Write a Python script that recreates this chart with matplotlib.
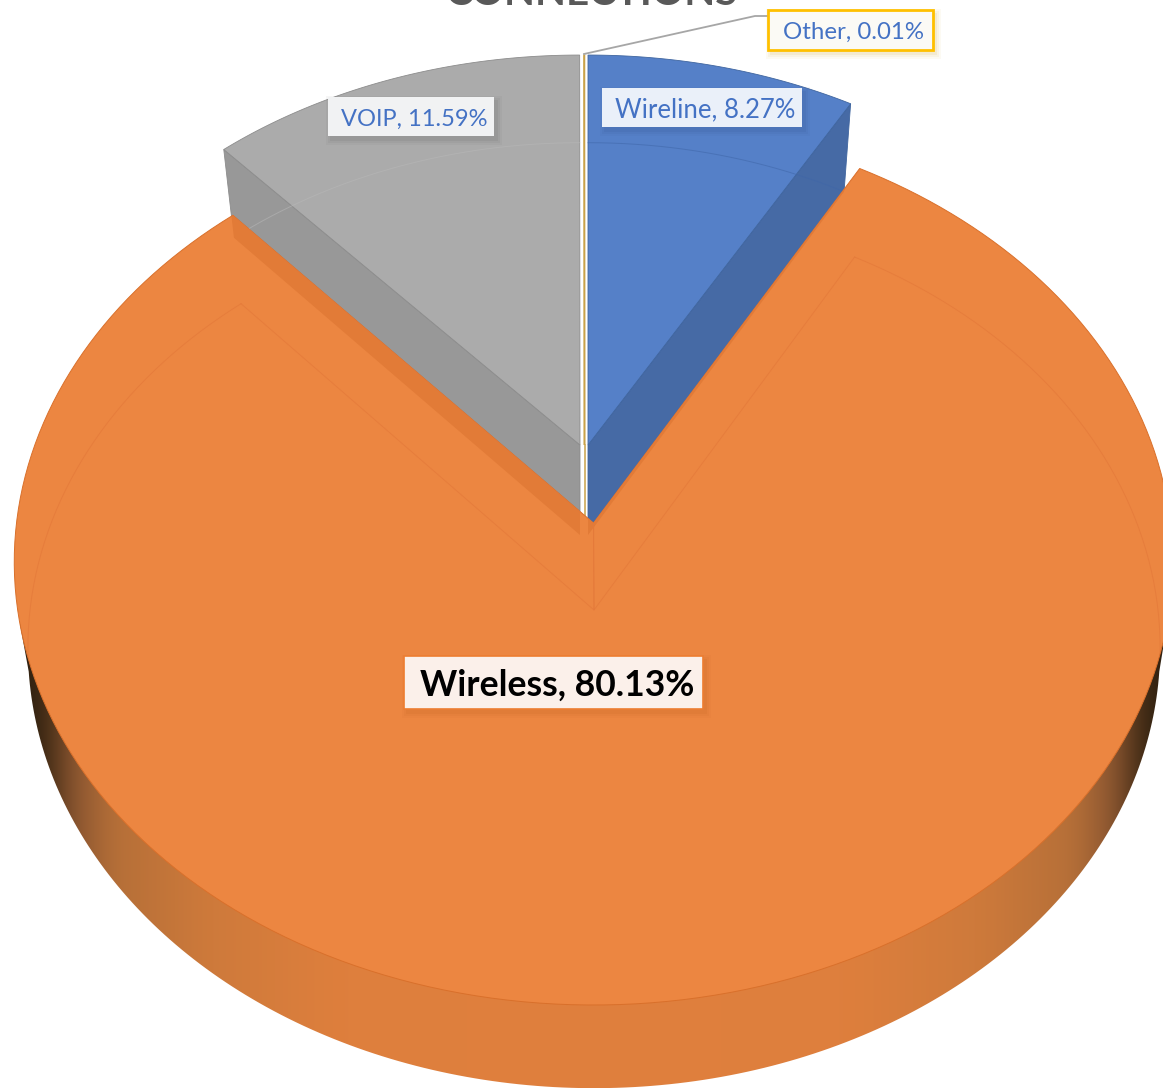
# Exploded 3D style pie of connection types, drawn in pixel coordinates

import numpy as np
import matplotlib
matplotlib.use('Agg')
import matplotlib.pyplot as plt
from matplotlib.patches import Polygon, Rectangle

categories = ['Wireline', 'Wireless', 'VOIP', 'Other']
shares = [8.27, 80.13, 11.59, 0.01]
title_text = 'CONNECTIONS'

plt.rcParams['font.family'] = ['Lato', 'DejaVu Sans']

# slice edges in degrees, clockwise from twelve o'clock
edges = np.concatenate([[0], np.cumsum(shares)]) / sum(shares) * 360
spans = {c: (edges[i], edges[i + 1]) for i, c in enumerate(categories)}


def rim(t0, t1, cx, cy, rx, a, k, n=200):
    th = np.radians(np.linspace(t0, t1, n))
    w = 1 + k * np.cos(th)
    return np.column_stack([cx + rx * np.sin(th) / w, cy - a * np.cos(th) / w])


def wedge(t0, t1, disc):
    return np.vstack([[disc[0], disc[1]], rim(t0, t1, *disc)])


fig = plt.figure(figsize=(11.63, 10.88), dpi=100)
ax = fig.add_axes([0, 0, 1, 1])

# (centre x, centre y, x radius, y scale, perspective)
main_top = (593.5, 523, 577, 439.6, 0.088)
main_low = (594, 610, 564, 437, 0.0861)
right_top = (588, 445, 559, 415.5, 0.0655)
right_low = (588, 535, 545, 418, 0.0655)
left_top = (580, 445, 561, 415.5, 0.0655)
left_low = (580, 535, 545, 418, 0.0655)
thin_top = (584.5, 445, 560, 415.5, 0.0655)
thin_low = (584.5, 535, 545, 418, 0.0655)


def side_wall(t, top, low):
    return np.vstack([rim(t, t, *top, n=1), [top[0], top[1]], [low[0], low[1]], rim(t, t, *low, n=1)])


def draw_exploded(name, top, low, top_color, wall_color, edge_color, arc_color):
    t0, t1 = spans[name]
    cut = t0 if name == 'VOIP' else t1
    wall = side_wall(cut, top, low)
    ax.add_patch(Polygon(wall, closed=True, fc=wall_color, ec=edge_color, lw=0.6, zorder=2))
    face = Polygon(wedge(t0, t1, top), closed=True, fc=top_color, ec=edge_color, lw=0.6, zorder=3)
    ax.add_patch(face)
    arc = rim(t0, t1, *low)
    ax.plot(arc[:, 0], arc[:, 1], color=arc_color, lw=0.7, alpha=0.55, zorder=4)
    return wall


wall_blue = draw_exploded('Wireline', right_top, right_low, '#5580C8', '#466AA5', '#3F659F', '#3F66A8')
wall_gray = draw_exploded('VOIP', left_top, left_low, '#ABABAB', '#989898', '#8C8C8C', '#B8B8B8')

# the Other slice is only a sliver
t0, t1 = spans['Other']
ax.add_patch(Polygon(wedge(t0, t1, thin_top), closed=True, fc='#FFC000', ec='#C9A24A', lw=1.1, zorder=2))
ax.plot([thin_top[0], thin_low[0]], [thin_top[1], thin_low[1]], color='#C9A24A', lw=1.1, zorder=2)

# outer wall of the big slice, shaded towards both sides
t0, t1 = spans['Wireless']
shade_pos = [0.0, 0.45, 0.68, 0.85, 0.92, 0.965, 1.0]
shade_rgb = np.array([[224, 128, 62], [222, 127, 61], [206, 122, 59], [181, 111, 56],
                      [138, 85, 48], [74, 48, 24], [46, 32, 16]]) / 255
px = np.arange(-30, 1193) + 0.5
u = np.abs(px - main_low[0]) / 565
shade = np.stack([np.convolve(np.interp(u, shade_pos, shade_rgb[:, j]), np.ones(31) / 31, mode='same')
                  for j in range(3)], axis=1)[30:-30]
wall_img = ax.imshow(shade[None, :, :], extent=(0, 1163, 1088, 0), aspect='auto', zorder=5)
outline = np.vstack([rim(98, 262, *main_low), rim(257, 257, *main_top, n=1), rim(103, 103, *main_top, n=1)])
wall_img.set_clip_path(Polygon(outline, closed=True, transform=ax.transData))

ax.set_xlim(0, 1163)
ax.set_ylim(1088, 0)
ax.axis('off')

# top of the big slice
main_face = Polygon(wedge(t0, t1, main_top), closed=True, fc='#EC8641', ec='#D9702B', lw=0.7, zorder=6)
ax.add_patch(main_face)

# things seen through the orange top
for wall in (wall_gray, wall_blue):
    seen = Polygon(wall, closed=True, fc='#E27B37', ec='none', zorder=7)
    ax.add_patch(seen)
    seen.set_clip_path(main_face)

low_arc = rim(t0, t1, *main_low)
faint = [ax.plot(low_arc[:, 0], low_arc[:, 1], color='#E4793A', lw=0.7, alpha=0.7, zorder=8)[0]]
for t in (t0, t1):
    wall = side_wall(t, main_top, main_low)
    faint.append(ax.plot(wall[:, 0], wall[:, 1], color='#E4793A', lw=0.7, alpha=0.7, zorder=8)[0])
for line in faint:
    line.set_clip_path(main_face)


def label(name, box, text_xy, size, text_color, face, edge, edge_w, shadow, weight='normal'):
    x0, y0, x1, y1 = box
    for grow, alpha in ((5, 0.05), (3, 0.07), (1, 0.10)):
        ax.add_patch(Rectangle((x0 + 3 - grow, y0 + 4 - grow), x1 - x0 + 2 * grow, y1 - y0 + 2 * grow,
                               fc=shadow, ec='none', alpha=alpha, zorder=10))
    ax.add_patch(Rectangle((x0, y0), x1 - x0, y1 - y0, fc=face, ec=edge, lw=edge_w, zorder=11))
    share = shares[categories.index(name)]
    ax.text(text_xy[0], text_xy[1], f'{name}, {share:.2f}%', fontsize=size, color=text_color,
            fontweight=weight, ha='left', va='center', zorder=12)


ax.plot([584, 755, 768], [54, 16, 16], color='#A6A6A6', lw=1.3, zorder=9)
label('Other', (768, 10, 933, 50), (783, 32), 17.3, '#4472C4', '#FBFAF5', '#FFC000', 2, '#C9A227')
label('Wireline', (602, 88, 802, 127), (615, 110), 18.5, '#4472C4', '#EAF0F9', 'none', 0, '#2F4F85')
label('VOIP', (328, 97, 494, 136), (341, 119), 17, '#4472C4', '#F1F2F3', 'none', 0, '#555555')
label('Wireless', (404, 656, 703, 709), (420, 685), 25.6, 'black', '#FBF0EA', '#ED7D31', 1.2, '#B85A1E', weight='bold')

ax.text(592, 5, title_text, fontsize=29, fontweight='bold', color='#595959', ha='center', va='baseline', zorder=1)

fig.savefig('out.png', dpi=100)
